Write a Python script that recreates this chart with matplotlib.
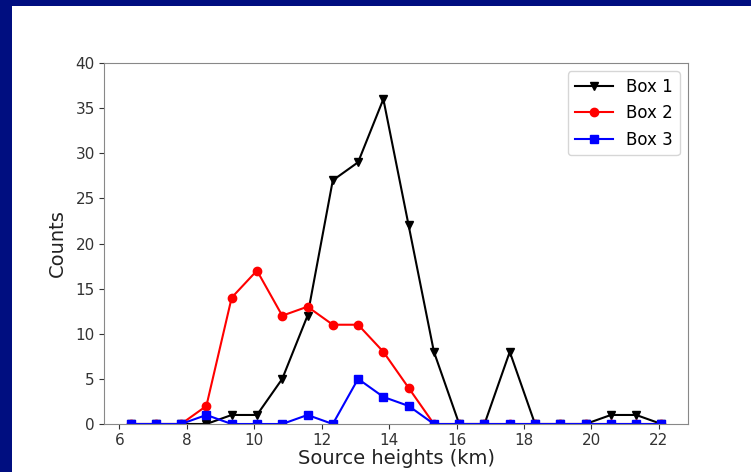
import numpy as np
import matplotlib
matplotlib.use("Agg")
import matplotlib.pyplot as plt
from matplotlib.patches import Rectangle

# source height bins (km)
heights = [6.33, 7.08, 7.83, 8.58, 9.33, 10.08, 10.83, 11.58, 12.33, 13.08, 13.83,
           14.58, 15.33, 16.08, 16.83, 17.58, 18.33, 19.08, 19.83, 20.58, 21.33, 22.08]

box1 = [0, 0, 0, 0, 1, 1, 5, 12, 27, 29, 36, 22, 8, 0, 0, 8, 0, 0, 0, 1, 1, 0]
box2 = [0, 0, 0, 2, 14, 17, 12, 13, 11, 11, 8, 4, 0, 0, 0, 0, 0, 0, 0, 0, 0, 0]
box3 = [0, 0, 0, 1, 0, 0, 0, 1, 0, 5, 3, 2, 0, 0, 0, 0, 0, 0, 0, 0, 0, 0]

W, H = 751, 472
fig = plt.figure(figsize=(W / 100, H / 100), dpi=100, facecolor="#000e80")
# white slide area inside the navy frame
fig.patches.append(Rectangle((12 / W, 0), 1, (H - 6) / H, transform=fig.transFigure,
                             facecolor="white", edgecolor="none", zorder=-1))

ax = fig.add_axes([104 / W, (H - 424) / H, (688 - 104) / W, (424 - 63) / H])

ax.plot(heights, box1, color="k", marker="v", markersize=6, lw=1.5, label="Box 1")
ax.plot(heights, box2, color="r", marker="o", markersize=6, lw=1.5, label="Box 2")
ax.plot(heights, box3, color="b", marker="s", markersize=6, lw=1.5, label="Box 3")

ax.set_ylim(0, 40)
ax.set_xticks(np.arange(6, 23, 2))
ax.set_yticks(np.arange(0, 41, 5))
ax.tick_params(labelsize=11, colors="#333333", pad=3)
for s in ax.spines.values():
    s.set_color("#888888")

ax.set_xlabel("Source heights (km)", fontsize=14, color="#222222", labelpad=1)
ax.set_ylabel("Counts", fontsize=14, color="#222222", labelpad=6)
ax.legend(loc="upper right", fontsize=12, handlelength=2.3)

fig.savefig("out.png", dpi=100, facecolor=fig.get_facecolor())
